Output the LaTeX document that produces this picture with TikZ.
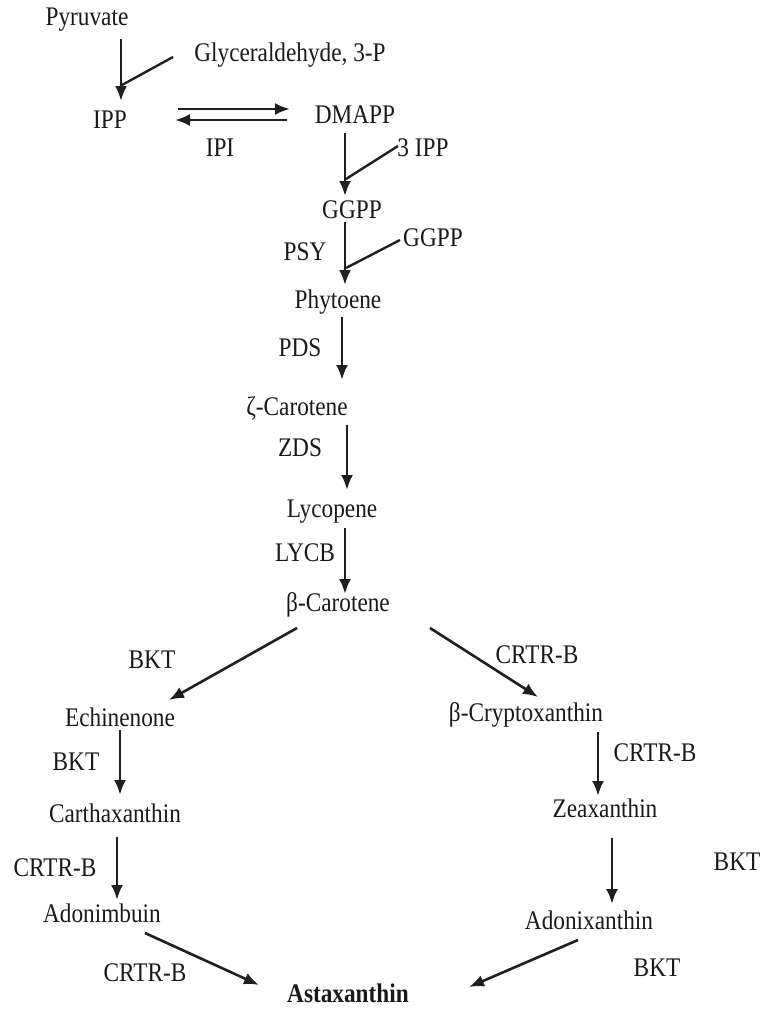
\documentclass[tikz,border=0pt]{standalone}
\usepackage{fontspec}
\setmainfont{Liberation Serif}
\usetikzlibrary{arrows.meta}
\newcommand{\tall}[1]{\scalebox{0.97}[1.12]{#1}}
\begin{document}
\begin{tikzpicture}[x=1pt,y=-1pt,
  lbl/.style={inner sep=0pt, font=\fontsize{24}{26}\selectfont, text=black!90},
  arr/.style={line width=2.6pt, draw=black!88, -{Latex[length=15pt,width=12pt]}},
  feed/.style={line width=2.4pt, draw=black!88}]
\useasboundingbox (0,0) rectangle (768,1009);
% metabolites
\node[lbl] (pyr) at (87,20) {\tall{Pyruvate}};
\node[lbl] (gap) at (290,55) {\tall{Glyceraldehyde, 3-P}};
\node[lbl] (ipp) at (110,120) {\tall{IPP}};
\node[lbl] (dmapp) at (355,115) {\tall{DMAPP}};
\node[lbl] (ipi) at (220,148) {\tall{IPI}};
\node[lbl] (tipp) at (423,148) {\tall{3 IPP}};
\node[lbl] (ggpp) at (352,210) {\tall{GGPP}};
\node[lbl] (psy) at (305,252) {\tall{PSY}};
\node[lbl] (ggppb) at (433,238) {\tall{GGPP}};
\node[lbl] (phy) at (338,302) {\tall{Phytoene}};
\node[lbl] (pds) at (300,348) {\tall{PDS}};
\node[lbl] (zcar) at (297,408) {\tall{ζ-Carotene}};
\node[lbl] (zds) at (300,448) {\tall{ZDS}};
\node[lbl] (lyc) at (332,512) {\tall{Lycopene}};
\node[lbl] (lycb) at (305,553) {\tall{LYCB}};
\node[lbl] (bcar) at (338,605) {\tall{β-Carotene}};
\node[lbl] (bkt1) at (152,660) {\tall{BKT}};
\node[lbl] (crtr1) at (537,655) {\tall{CRTR-B}};
\node[lbl] (ech) at (120,717) {\tall{Echinenone}};
\node[lbl] (bcry) at (526,715) {\tall{β-Cryptoxanthin}};
\node[lbl] (bkt2) at (76,762) {\tall{BKT}};
\node[lbl] (crtr2) at (655,753) {\tall{CRTR-B}};
\node[lbl] (car) at (115,813) {\tall{Carthaxanthin}};
\node[lbl] (zea) at (605,808) {\tall{Zeaxanthin}};
\node[lbl] (crtr3) at (55,868) {\tall{CRTR-B}};
\node[lbl] (bkt3) at (737,862) {\tall{BKT}};
\node[lbl] (adm) at (102,913) {\tall{Adonimbuin}};
\node[lbl] (adx) at (589,920) {\tall{Adonixanthin}};
\node[lbl] (crtr4) at (145,973) {\tall{CRTR-B}};
\node[lbl] (bkt4) at (657,968) {\tall{BKT}};
\node[lbl, font=\fontsize{24}{26}\selectfont\bfseries] (ast) at (348,993) {\tall{Astaxanthin}};
% connector end points
\coordinate (pyr-o) at (121,39);   \coordinate (ipp-i) at (121,101);
\coordinate (gap-o) at (173,57);   \coordinate (ipp-j) at (122,85);
\coordinate (ipp-o) at (178,109);  \coordinate (dmapp-i) at (290,109);
\coordinate (dmapp-o) at (287,120);\coordinate (ipp-k) at (175,120);
\coordinate (dmapp-s) at (345,133);\coordinate (ggpp-i) at (345,196);
\coordinate (tipp-o) at (398,146); \coordinate (ggpp-j) at (346,179);
\coordinate (ggpp-s) at (345,222); \coordinate (phy-i) at (345,285);
\coordinate (ggppb-o) at (400,240);\coordinate (phy-j) at (346,268);
\coordinate (phy-s) at (342,317);  \coordinate (zcar-i) at (342,380);
\coordinate (zcar-s) at (347,425); \coordinate (lyc-i) at (347,490);
\coordinate (lyc-s) at (345,528);  \coordinate (bcar-i) at (345,594);
\coordinate (bcar-l) at (297,628); \coordinate (ech-i) at (169,700);
\coordinate (bcar-r) at (430,628); \coordinate (bcry-i) at (538,697);
\coordinate (ech-s) at (120,730);  \coordinate (car-i) at (120,795);
\coordinate (bcry-s) at (598,732); \coordinate (zea-i) at (598,796);
\coordinate (car-s) at (117,837);  \coordinate (adm-i) at (117,900);
\coordinate (zea-s) at (612,838);  \coordinate (adx-i) at (612,904);
\coordinate (adm-s) at (145,933);  \coordinate (ast-l) at (259,985);
\coordinate (adx-s) at (578,940);  \coordinate (ast-r) at (469,987);
% connectors
\draw[arr] (pyr-o) -- (ipp-i);
\draw[feed] (gap-o) -- (ipp-j);
\draw[arr] (ipp-o) -- (dmapp-i);
\draw[arr] (dmapp-o) -- (ipp-k);
\draw[arr] (dmapp-s) -- (ggpp-i);
\draw[feed] (tipp-o) -- (ggpp-j);
\draw[arr] (ggpp-s) -- (phy-i);
\draw[feed] (ggppb-o) -- (phy-j);
\draw[arr] (phy-s) -- (zcar-i);
\draw[arr] (zcar-s) -- (lyc-i);
\draw[arr] (lyc-s) -- (bcar-i);
\draw[arr] (bcar-l) -- (ech-i);
\draw[arr] (bcar-r) -- (bcry-i);
\draw[arr] (ech-s) -- (car-i);
\draw[arr] (bcry-s) -- (zea-i);
\draw[arr] (car-s) -- (adm-i);
\draw[arr] (zea-s) -- (adx-i);
\draw[arr] (adm-s) -- (ast-l);
\draw[arr] (adx-s) -- (ast-r);
\end{tikzpicture}
\end{document}
